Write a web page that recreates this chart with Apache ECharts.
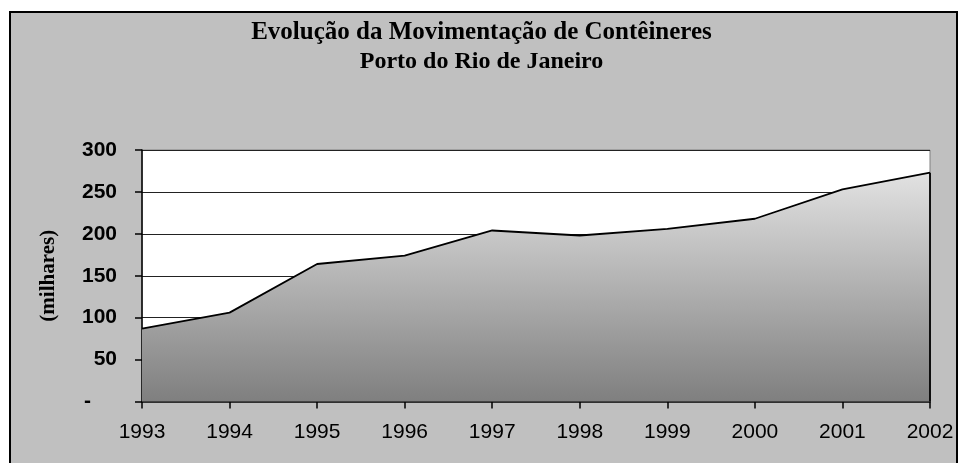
<!DOCTYPE html>
<html>
<head>
<meta charset="utf-8">
<script src="https://cdn.jsdelivr.net/npm/echarts@6/dist/echarts.min.js"></script>
<style>
html,body{margin:0;padding:0;background:#fff;}
#c{width:963px;height:463px;}
</style>
</head>
<body>
<div id="c"></div>
<script>
var years = ['1993','1994','1995','1996','1997','1998','1999','2000','2001','2002'];
var containers = [87, 106, 164, 174, 204, 198, 206, 218, 253, 273];
var yTicks = [0, 50, 100, 150, 200, 250, 300];
var titleLines = ['Evolução da Movimentação de Contêineres', 'Porto do Rio de Janeiro'];
var yName = '(milhares)';

var chart = echarts.init(document.getElementById('c'));
chart.setOption({
  animation: false,
  backgroundColor: '#ffffff',
  graphic: [{
    type: 'rect',
    z: -10,
    shape: {x: 10, y: 12, width: 947, height: 470},
    style: {fill: '#c0c0c0', stroke: '#000', lineWidth: 2}
  }],
  title: [{
    text: titleLines[0],
    left: 'center',
    top: 15,
    textStyle: {fontFamily: 'Liberation Serif', fontWeight: 'bold', fontSize: 25, color: '#000'}
  }, {
    text: titleLines[1],
    left: 'center',
    top: 45,
    textStyle: {fontFamily: 'Liberation Serif', fontWeight: 'bold', fontSize: 24, color: '#000'}
  }],
  grid: {left: 142, right: 33, top: 150, bottom: 61.5, show: true, backgroundColor: '#ffffff', borderColor: '#808080', borderWidth: 1},
  xAxis: {
    type: 'category',
    data: years,
    boundaryGap: false,
    axisLine: {lineStyle: {color: '#000', width: 1.5}},
    axisTick: {show: true, length: 7, lineStyle: {color: '#000', width: 1.5}, alignWithLabel: true},
    axisLabel: {fontFamily: 'Liberation Sans', fontSize: 21, color: '#000', margin: 20},
    splitLine: {show: false}
  },
  yAxis: {
    type: 'value',
    min: yTicks[0],
    max: yTicks[yTicks.length - 1],
    interval: 50,
    name: yName,
    nameLocation: 'middle',
    nameGap: 83,
    nameRotate: 90,
    nameTextStyle: {fontFamily: 'Liberation Serif', fontWeight: 'bold', fontSize: 21, color: '#000'},
    axisLine: {show: true, lineStyle: {color: '#000', width: 1.5}},
    axisTick: {show: true, length: 7, lineStyle: {color: '#000', width: 1.5}},
    axisLabel: {
      margin: 25,
      fontFamily: 'Liberation Sans', fontWeight: 'bold', fontSize: 21, color: '#000',
      formatter: function (v) { return v === 0 ? '{d|-}' : String(v); },
      rich: {d: {fontFamily: 'Liberation Sans', fontWeight: 'bold', fontSize: 21, color: '#000', padding: [0, 26, 0, 0]}}
    },
    splitLine: {show: true, lineStyle: {color: '#222', width: 1}}
  },
  series: [{
    type: 'line',
    data: containers,
    symbol: 'none',
    lineStyle: {color: '#000', width: 1.8},
    areaStyle: {
      opacity: 1,
      color: new echarts.graphic.LinearGradient(0, 0, 0, 1, [
        {offset: 0, color: '#e2e2e2'},
        {offset: 1, color: '#7f7f7f'}
      ])
    },
    markLine: {
      silent: true,
      symbol: 'none',
      label: {show: false},
      lineStyle: {color: '#000', width: 1.8, type: 'solid'},
      data: [[{coord: [years[years.length - 1], 0]}, {coord: [years[years.length - 1], containers[containers.length - 1]]}]]
    }
  }]
});
</script>
</body>
</html>
